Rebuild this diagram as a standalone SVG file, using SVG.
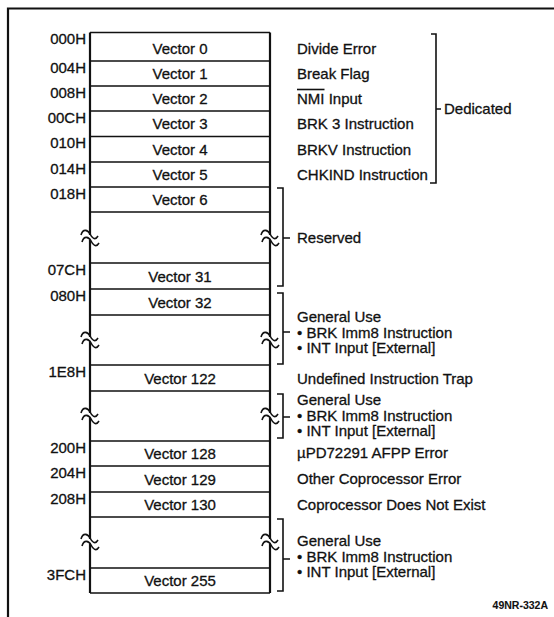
<svg xmlns="http://www.w3.org/2000/svg" xmlns:xlink="http://www.w3.org/1999/xlink" width="554" height="617" viewBox="0 0 554 617">
<style>
text{font-family:"Liberation Sans",Arial,Helvetica,sans-serif;font-size:15px;fill:#111;stroke:#111;stroke-width:0.3}
.addr{text-anchor:end}
.vec{text-anchor:middle}
.row{fill:none;stroke:#111;stroke-width:1.6}
.edge{stroke:#111;stroke-width:2.2;fill:none}
.br{fill:none;stroke:#111;stroke-width:1.6}
.wv{fill:none;stroke:#111;stroke-width:1.6}
.fig{font-size:10.5px;font-weight:bold;text-anchor:end;stroke-width:0.1}
</style>
<defs>
<g id="brk">
<rect x="-3" y="-3" width="6" height="5" fill="#fff"/>
<path class="wv" d="M-9,-3 C-7,-10 -2,-8 0,-4 S5,3 8,-2"/>
<path class="wv" d="M-8,4 C-6,-3 -1,-1 1,3 S6,10 9,5"/>
</g>
</defs>
<g id="frame">
<path class="edge" d="M8,617 V8.5 H554"/>
</g>
<g id="table">
<path class="edge" d="M90,32.5 V593 M270,32.5 V593"/>
<path class="row" d="M90,32.5 H270 M90,61 H270 M90,86 H270 M90,111 H270 M90,136.5 H270 M90,162 H270 M90,187 H270 M90,212 H270 M90,263 H270 M90,289 H270 M90,315 H270 M90,365 H270 M90,391 H270 M90,441 H270 M90,466 H270 M90,492 H270 M90,517 H270 M90,568 H270 M90,593 H270"/>
<use xlink:href="#brk" x="90" y="238"/>
<use xlink:href="#brk" x="270" y="238"/>
<use xlink:href="#brk" x="90" y="340"/>
<use xlink:href="#brk" x="270" y="340"/>
<use xlink:href="#brk" x="90" y="416"/>
<use xlink:href="#brk" x="270" y="416"/>
<use xlink:href="#brk" x="90" y="542"/>
<use xlink:href="#brk" x="270" y="542"/>
</g>
<g id="addresses">
<text class="addr" x="86" y="44">000H</text>
<text class="addr" x="86" y="72.5">004H</text>
<text class="addr" x="86" y="97.5">008H</text>
<text class="addr" x="86" y="122.5">00CH</text>
<text class="addr" x="86" y="148">010H</text>
<text class="addr" x="86" y="173.5">014H</text>
<text class="addr" x="86" y="198.5">018H</text>
<text class="addr" x="86" y="274.5">07CH</text>
<text class="addr" x="86" y="300.5">080H</text>
<text class="addr" x="86" y="376.5">1E8H</text>
<text class="addr" x="86" y="452.5">200H</text>
<text class="addr" x="86" y="477.5">204H</text>
<text class="addr" x="86" y="503.5">208H</text>
<text class="addr" x="86" y="579.5">3FCH</text>
</g>
<g id="vectors">
<text class="vec" x="180" y="53.5">Vector 0</text>
<text class="vec" x="180" y="78.5">Vector 1</text>
<text class="vec" x="180" y="103.5">Vector 2</text>
<text class="vec" x="180" y="129">Vector 3</text>
<text class="vec" x="180" y="154.5">Vector 4</text>
<text class="vec" x="180" y="179.5">Vector 5</text>
<text class="vec" x="180" y="204.5">Vector 6</text>
<text class="vec" x="180" y="281.5">Vector 31</text>
<text class="vec" x="180" y="307.5">Vector 32</text>
<text class="vec" x="180" y="383.5">Vector 122</text>
<text class="vec" x="180" y="458.5">Vector 128</text>
<text class="vec" x="180" y="484.5">Vector 129</text>
<text class="vec" x="180" y="509.5">Vector 130</text>
<text class="vec" x="180" y="585.5">Vector 255</text>
</g>
<g id="dedicated">
<text x="297" y="53.5">Divide Error</text>
<text x="297" y="78.5">Break Flag</text>
<text x="297" y="103.5">NMI Input</text>
<path class="row" d="M297,89.5 H324.5"/>
<text x="297" y="129">BRK 3 Instruction</text>
<text x="297" y="154.5">BRKV Instruction</text>
<text x="297" y="179.5">CHKIND Instruction</text>
<path class="br" d="M431,34 H436 V183 H430 M436,109 H441"/>
<text x="444" y="114">Dedicated</text>
</g>
<g id="reserved">
<path class="br" d="M277,188 H283 V286 H277 M283,238 H290"/>
<text x="297" y="243">Reserved</text>
</g>
<g id="general1">
<path class="br" d="M277,293 H283 V364 H277 M283,332 H290"/>
<text x="297" y="322">General Use</text>
<text x="297" y="337.5">• BRK Imm8 Instruction</text>
<text x="297" y="353">• INT Input [External]</text>
</g>
<g id="undefined">
<text x="297" y="383.5">Undefined Instruction Trap</text>
</g>
<g id="general2">
<path class="br" d="M277,394 H283 V438 H277 M283,417 H290"/>
<text x="297" y="405">General Use</text>
<text x="297" y="420.5">• BRK Imm8 Instruction</text>
<text x="297" y="436">• INT Input [External]</text>
</g>
<g id="coproc">
<text x="297" y="457.5">µPD72291 AFPP Error</text>
<text x="297" y="484">Other Coprocessor Error</text>
<text x="297" y="510">Coprocessor Does Not Exist</text>
</g>
<g id="general3">
<path class="br" d="M277,519 H283 V591 H277 M283,559 H290"/>
<text x="297" y="546">General Use</text>
<text x="297" y="561.5">• BRK Imm8 Instruction</text>
<text x="297" y="577">• INT Input [External]</text>
</g>
<text class="fig" x="548" y="609">49NR-332A</text>
</svg>
